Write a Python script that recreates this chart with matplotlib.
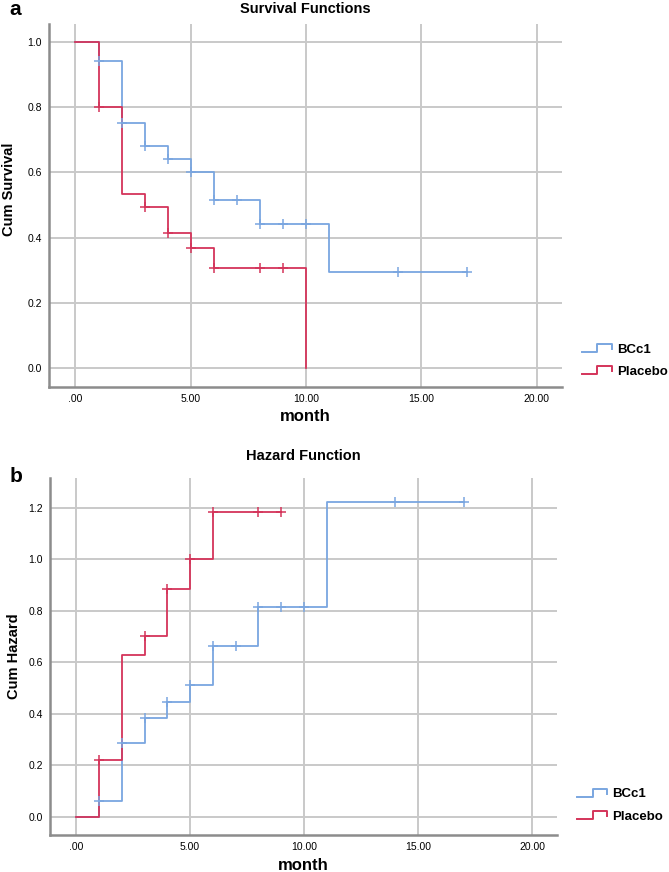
import matplotlib
matplotlib.use('Agg')
import matplotlib.pyplot as plt
from matplotlib.lines import Line2D
from matplotlib.legend_handler import HandlerBase

plt.rcParams['font.family'] = ['Liberation Sans', 'DejaVu Sans']

# survival step data (time in months)
surv_bcc1_t = [0, 1, 2, 3, 4, 5, 6, 8, 11, 17]
surv_bcc1_v = [1.0, 0.941, 0.75, 0.68, 0.641, 0.601, 0.515, 0.442, 0.295, 0.295]
surv_plac_t = [0, 1, 2, 3, 4, 5, 6, 10]
surv_plac_v = [1.0, 0.8, 0.533, 0.495, 0.413, 0.367, 0.306, 0.0]

# censor marks on survival curves
cens_bcc1_t = [1, 2, 3, 4, 5, 6, 7, 8, 9, 10, 14, 17]
cens_bcc1_sv = [0.941, 0.75, 0.68, 0.641, 0.601, 0.515, 0.515, 0.442, 0.442, 0.442, 0.295, 0.295]
cens_plac_t = [1, 3, 4, 5, 6, 8, 9]
cens_plac_sv = [0.8, 0.495, 0.413, 0.367, 0.306, 0.306, 0.306]

# cumulative hazard step data
haz_bcc1_t = [0, 1, 2, 3, 4, 5, 6, 8, 11, 17]
haz_bcc1_v = [0.0, 0.061, 0.288, 0.386, 0.446, 0.511, 0.664, 0.816, 1.221, 1.221]
haz_plac_t = [0, 1, 2, 3, 4, 5, 6, 9]
haz_plac_v = [0.0, 0.223, 0.629, 0.703, 0.884, 1.003, 1.184, 1.184]

cens_bcc1_hv = [0.061, 0.288, 0.386, 0.446, 0.511, 0.664, 0.664, 0.816, 0.816, 0.816, 1.221, 1.221]
cens_plac_hv = [0.223, 0.703, 0.884, 1.003, 1.184, 1.184, 1.184]

x_ticks = [0, 5, 10, 15, 20]
x_labels = ['.00', '5.00', '10.00', '15.00', '20.00']

BLUE = '#7aa6e0'
RED = '#d4345a'
GRID = '#c9c9c9'


class StepHandler(HandlerBase):
    # little step icon like the SPSS legend
    def create_artists(self, legend, orig, xd, yd, w, h, fontsize, trans):
        xs = [xd, xd + 0.52 * w, xd + 0.52 * w, xd + w, xd + w]
        ys = [yd + 0.05 * h, yd + 0.05 * h, yd + 0.95 * h, yd + 0.95 * h, yd + 0.4 * h]
        ln = Line2D(xs, ys, color=orig.get_color(), lw=1.4, transform=trans)
        return [ln]


def draw_panel(ax, ylim, yticks, ylabel, lab_xy, title, tpad, leg_xy, data):
    for (t, v, ct, cv, c) in data:
        ax.step(t, v, where='post', color=c, lw=1.3, zorder=3)
        ax.plot(ct, cv, ls='none', marker='+', ms=6.5, mew=1.1, color=c, zorder=4)
    ax.set_xlim(-1.15, 21.1)
    ax.set_ylim(*ylim)
    ax.set_xticks(x_ticks)
    ax.set_xticklabels(x_labels)
    ax.set_yticks(yticks)
    ax.set_yticklabels(['%.1f' % y for y in yticks])
    ax.tick_params(length=0, labelsize=7.5)
    ax.tick_params(axis='y', pad=5)
    ax.tick_params(axis='x', pad=5)
    ax.grid(True, color=GRID, lw=1.4)
    ax.set_axisbelow(True)
    for s in ['top', 'right']:
        ax.spines[s].set_visible(False)
    for s in ['left', 'bottom']:
        ax.spines[s].set_color('#8c8c8c')
        ax.spines[s].set_linewidth(1.8)
    ax.set_xlabel('month', fontsize=12, fontweight='bold', labelpad=4)
    ax.set_ylabel(ylabel, fontsize=10.5, fontweight='bold')
    ax.yaxis.set_label_coords(*lab_xy)
    ax.set_title(title, fontsize=10.5, fontweight='bold', pad=tpad)
    h1 = Line2D([], [], color=BLUE)
    h2 = Line2D([], [], color=RED)
    leg = ax.legend([h1, h2], ['BCc1', 'Placebo'], loc='lower left',
                    bbox_to_anchor=leg_xy, frameon=False,
                    borderaxespad=0, borderpad=0,
                    handler_map={Line2D: StepHandler()},
                    prop={'weight': 'bold', 'size': 9.5},
                    handlelength=2.25, handletextpad=0.4, labelspacing=0.75)
    return leg


fig = plt.figure(figsize=(6.69, 8.72), dpi=100)
ax1 = fig.add_axes([0.0732, 0.5565, 0.7668, 0.416])
ax2 = fig.add_axes([0.0747, 0.0424, 0.7579, 0.4094])

draw_panel(ax1, (-0.057, 1.055), [0.0, 0.2, 0.4, 0.6, 0.8, 1.0], 'Cum Survival',
           (-0.064, 0.545), 'Survival Functions', 8, (1.039, 0.025),
           [(surv_bcc1_t, surv_bcc1_v, cens_bcc1_t, cens_bcc1_sv, BLUE),
            (surv_plac_t, surv_plac_v, cens_plac_t, cens_plac_sv, RED)])
draw_panel(ax2, (-0.07, 1.316), [0.0, 0.2, 0.4, 0.6, 0.8, 1.0, 1.2], 'Cum Hazard',
           (-0.058, 0.5), 'Hazard Function', 13, (1.04, 0.035),
           [(haz_bcc1_t, haz_bcc1_v, cens_bcc1_t, cens_bcc1_hv, BLUE),
            (haz_plac_t, haz_plac_v, cens_plac_t, cens_plac_hv, RED)])

fig.text(0.014, 0.989, 'a', fontsize=15, fontweight='bold', va='center')
fig.text(0.015, 0.453, 'b', fontsize=15, fontweight='bold', va='center')

fig.savefig('out.png', dpi=100)
